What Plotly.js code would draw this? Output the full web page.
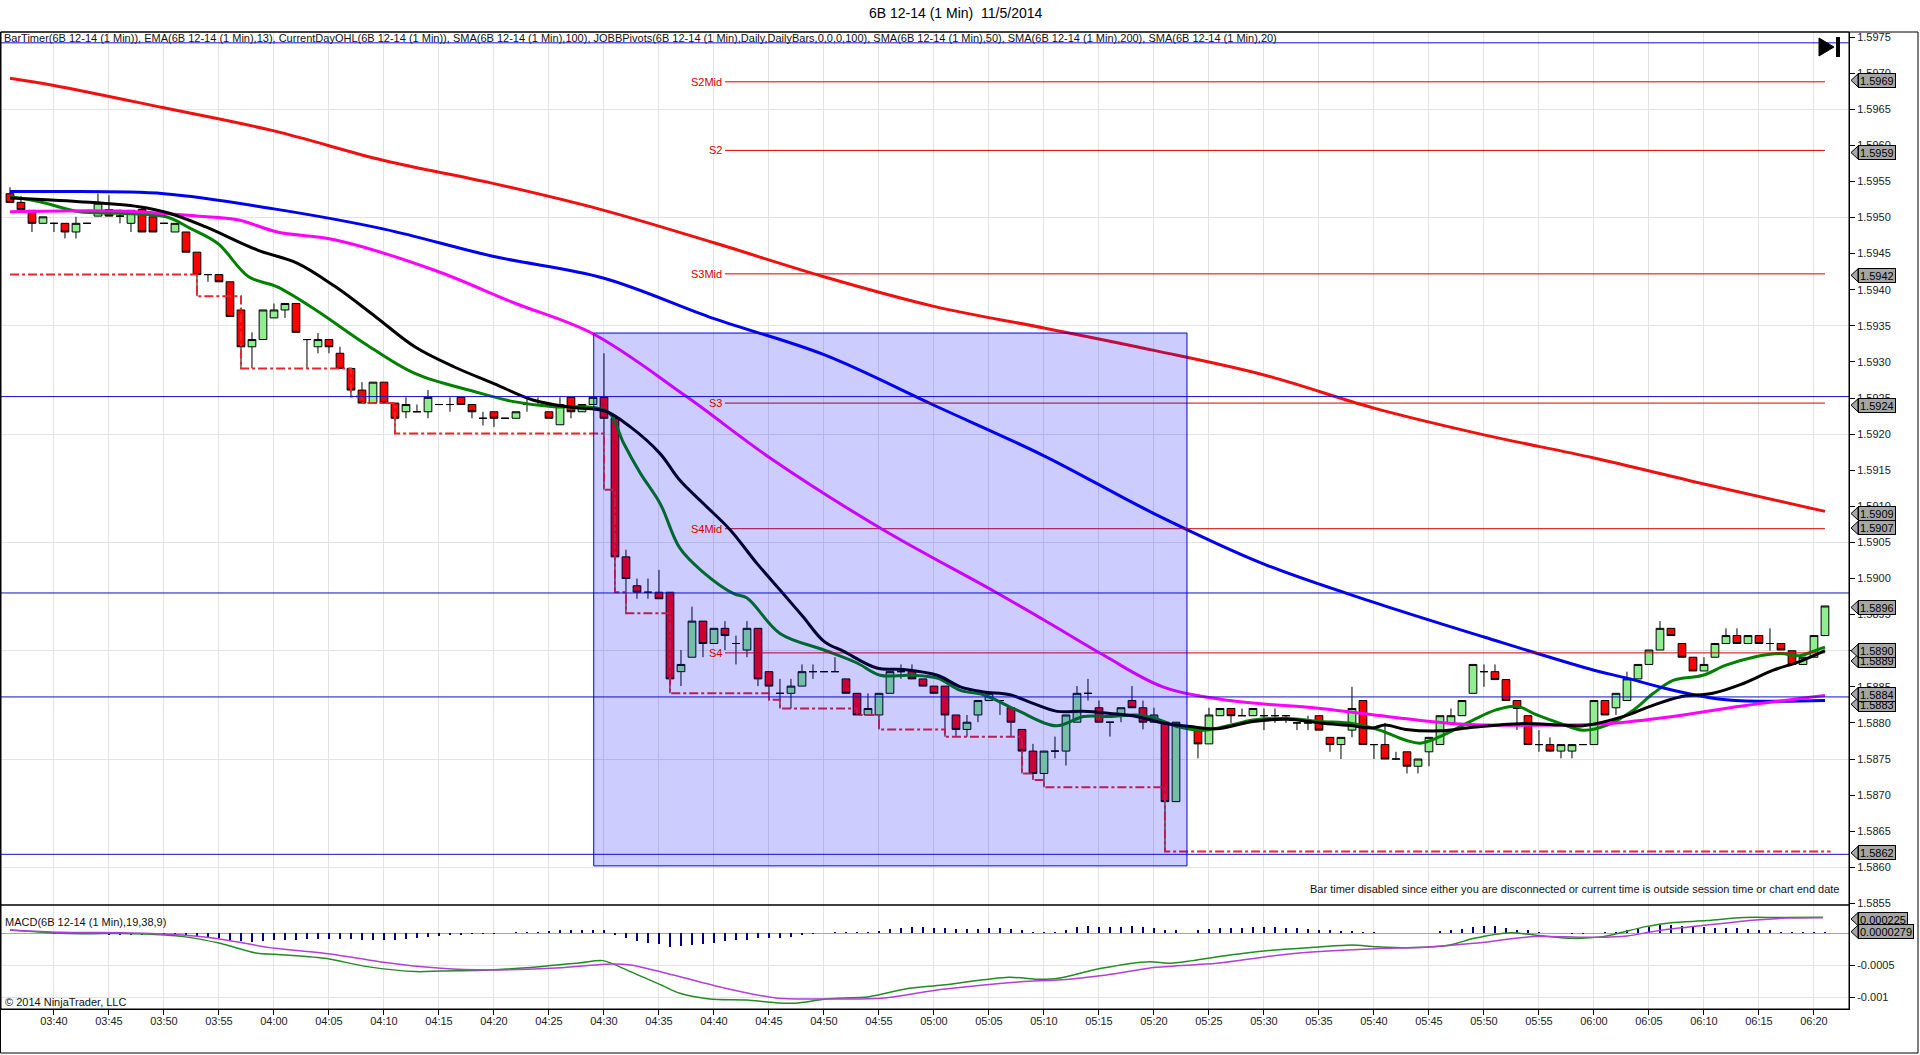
<!DOCTYPE html>
<html>
<head>
<meta charset="utf-8">
<script src="https://cdn.plot.ly/plotly-3.0.1.min.js"></script>
<style>html,body{margin:0;padding:0;background:#fff;overflow:hidden}#chart{width:1920px;height:1055px}</style>
</head>
<body>
<div id="chart"></div>
<script>
const DAY = '2014-11-05 ';
const D = t => (t === null ? null : DAY + t);

// ---------- 1-minute bars (6B 12-14) ----------
const barTime = [
"03:36","03:37","03:38","03:39","03:40","03:41","03:42","03:43","03:44","03:45",
"03:46","03:47","03:48","03:49","03:50","03:51","03:52","03:53","03:54","03:55",
"03:56","03:57","03:58","03:59","04:00","04:01","04:02","04:03","04:04","04:05",
"04:06","04:07","04:08","04:09","04:10","04:11","04:12","04:13","04:14","04:15",
"04:16","04:17","04:18","04:19","04:20","04:21","04:22","04:23","04:24","04:25",
"04:26","04:27","04:28","04:29","04:30","04:31","04:32","04:33","04:34","04:35",
"04:36","04:37","04:38","04:39","04:40","04:41","04:42","04:43","04:44","04:45",
"04:46","04:47","04:48","04:49","04:50","04:51","04:52","04:53","04:54","04:55",
"04:56","04:57","04:58","04:59","05:00","05:01","05:02","05:03","05:04","05:05",
"05:06","05:07","05:08","05:09","05:10","05:11","05:12","05:13","05:14","05:15",
"05:16","05:17","05:18","05:19","05:20","05:21","05:22","05:24","05:25","05:26",
"05:27","05:28","05:29","05:30","05:31","05:32","05:33","05:34","05:35","05:36",
"05:37","05:38","05:39","05:40","05:41","05:42","05:43","05:44","05:45","05:46",
"05:47","05:48","05:49","05:50","05:51","05:52","05:53","05:54","05:55","05:56",
"05:57","05:58","05:59","06:00","06:01","06:02","06:03","06:04","06:05","06:06",
"06:07","06:08","06:09","06:10","06:11","06:12","06:13","06:14","06:15","06:16",
"06:17","06:18","06:19","06:20","06:21"];
const barOpen = [
1.59533,1.59521,1.59510,1.59492,1.59492,1.59492,1.59480,1.59492,1.59502,1.59511,
1.59502,1.59492,1.59511,1.59501,1.59492,1.59480,1.59480,1.59452,1.59421,1.59421,
1.59411,1.59372,1.59321,1.59331,1.59361,1.59372,1.59381,1.59331,1.59321,1.59331,
1.59312,1.59291,1.59261,1.59243,1.59272,1.59243,1.59231,1.59231,1.59231,1.59241,
1.59241,1.59251,1.59241,1.59222,1.59231,1.59222,1.59222,1.59241,1.59241,1.59231,
1.59213,1.59251,1.59231,1.59241,1.59251,1.59222,1.59030,1.58990,1.58981,1.58981,
1.58981,1.58871,1.58891,1.58941,1.58910,1.58931,1.58910,1.58901,1.58931,1.58871,
1.58841,1.58841,1.58851,1.58871,1.58871,1.58871,1.58861,1.58841,1.58811,1.58811,
1.58841,1.58871,1.58871,1.58861,1.58851,1.58851,1.58811,1.58791,1.58811,1.58831,
1.58831,1.58821,1.58791,1.58761,1.58730,1.58761,1.58761,1.58801,1.58841,1.58821,
1.58801,1.58811,1.58831,1.58821,1.58801,1.58801,1.58691,1.58791,1.58771,1.58810,
1.58820,1.58810,1.58810,1.58810,1.58810,1.58810,1.58800,1.58800,1.58810,1.58780,
1.58770,1.58790,1.58831,1.58770,1.58770,1.58750,1.58760,1.58740,1.58760,1.58770,
1.58800,1.58810,1.58841,1.58871,1.58871,1.58860,1.58831,1.58810,1.58770,1.58770,
1.58761,1.58761,1.58770,1.58770,1.58831,1.58821,1.58831,1.58861,1.58881,1.58901,
1.58931,1.58910,1.58891,1.58872,1.58891,1.58910,1.58921,1.58910,1.58921,1.58910,
1.58910,1.58900,1.58881,1.58891,1.58921];
const barHigh = [
1.59542,1.59530,1.59510,1.59501,1.59492,1.59492,1.59501,1.59492,1.59533,1.59531,
1.59511,1.59510,1.59516,1.59501,1.59492,1.59492,1.59480,1.59452,1.59421,1.59421,
1.59411,1.59372,1.59341,1.59372,1.59381,1.59381,1.59381,1.59331,1.59340,1.59331,
1.59321,1.59291,1.59272,1.59272,1.59272,1.59243,1.59251,1.59241,1.59261,1.59241,
1.59251,1.59251,1.59241,1.59231,1.59231,1.59222,1.59231,1.59251,1.59251,1.59231,
1.59251,1.59251,1.59241,1.59251,1.59312,1.59222,1.59040,1.59000,1.59000,1.59012,
1.58981,1.58901,1.58961,1.58941,1.58931,1.58941,1.58921,1.58941,1.58931,1.58871,
1.58861,1.58861,1.58881,1.58881,1.58871,1.58891,1.58861,1.58841,1.58841,1.58841,
1.58871,1.58881,1.58881,1.58861,1.58851,1.58851,1.58811,1.58811,1.58831,1.58841,
1.58831,1.58821,1.58791,1.58771,1.58761,1.58781,1.58811,1.58851,1.58861,1.58831,
1.58801,1.58821,1.58851,1.58831,1.58821,1.58801,1.58801,1.58791,1.58821,1.58820,
1.58820,1.58820,1.58820,1.58820,1.58820,1.58810,1.58800,1.58810,1.58810,1.58780,
1.58780,1.58850,1.58831,1.58770,1.58800,1.58760,1.58760,1.58750,1.58780,1.58810,
1.58820,1.58831,1.58881,1.58881,1.58881,1.58860,1.58831,1.58810,1.58790,1.58780,
1.58770,1.58770,1.58770,1.58831,1.58831,1.58841,1.58871,1.58881,1.58901,1.58941,
1.58931,1.58910,1.58891,1.58891,1.58910,1.58931,1.58931,1.58921,1.58921,1.58931,
1.58910,1.58900,1.58891,1.58921,1.58962];
const barLow = [
1.59521,1.59511,1.59480,1.59492,1.59480,1.59471,1.59471,1.59492,1.59502,1.59502,
1.59492,1.59480,1.59480,1.59480,1.59492,1.59480,1.59452,1.59391,1.59411,1.59411,
1.59363,1.59291,1.59291,1.59331,1.59361,1.59361,1.59341,1.59291,1.59312,1.59312,
1.59291,1.59252,1.59243,1.59243,1.59243,1.59201,1.59222,1.59231,1.59222,1.59241,
1.59231,1.59241,1.59222,1.59212,1.59210,1.59222,1.59222,1.59231,1.59241,1.59222,
1.59213,1.59222,1.59231,1.59241,1.59123,1.58981,1.58952,1.58972,1.58972,1.58972,
1.58841,1.58851,1.58891,1.58891,1.58910,1.58901,1.58881,1.58891,1.58851,1.58832,
1.58820,1.58820,1.58851,1.58861,1.58871,1.58871,1.58841,1.58811,1.58811,1.58791,
1.58841,1.58861,1.58861,1.58851,1.58841,1.58781,1.58781,1.58781,1.58801,1.58831,
1.58811,1.58781,1.58730,1.58721,1.58711,1.58751,1.58741,1.58801,1.58831,1.58801,
1.58781,1.58801,1.58821,1.58791,1.58801,1.58622,1.58691,1.58751,1.58771,1.58810,
1.58800,1.58810,1.58810,1.58790,1.58800,1.58800,1.58790,1.58790,1.58790,1.58760,
1.58750,1.58780,1.58770,1.58750,1.58750,1.58750,1.58730,1.58730,1.58740,1.58770,
1.58800,1.58810,1.58841,1.58850,1.58860,1.58831,1.58790,1.58770,1.58760,1.58760,
1.58751,1.58751,1.58770,1.58770,1.58811,1.58811,1.58831,1.58861,1.58881,1.58901,
1.58921,1.58891,1.58872,1.58872,1.58891,1.58910,1.58910,1.58910,1.58910,1.58900,
1.58901,1.58881,1.58881,1.58891,1.58921];
const barClose = [
1.59521,1.59511,1.59492,1.59501,1.59492,1.59480,1.59492,1.59492,1.59520,1.59502,
1.59502,1.59510,1.59480,1.59480,1.59492,1.59492,1.59452,1.59421,1.59421,1.59411,
1.59363,1.59321,1.59331,1.59372,1.59372,1.59381,1.59341,1.59331,1.59331,1.59321,
1.59291,1.59261,1.59243,1.59272,1.59243,1.59222,1.59241,1.59231,1.59251,1.59241,
1.59241,1.59241,1.59231,1.59222,1.59222,1.59222,1.59231,1.59241,1.59241,1.59222,
1.59241,1.59231,1.59241,1.59251,1.59222,1.59030,1.59000,1.58981,1.58981,1.58972,
1.58861,1.58881,1.58941,1.58910,1.58931,1.58921,1.58910,1.58931,1.58861,1.58851,
1.58841,1.58851,1.58871,1.58871,1.58871,1.58871,1.58841,1.58811,1.58820,1.58841,
1.58871,1.58871,1.58861,1.58851,1.58841,1.58811,1.58791,1.58801,1.58831,1.58841,
1.58831,1.58801,1.58761,1.58730,1.58761,1.58761,1.58811,1.58841,1.58841,1.58801,
1.58801,1.58821,1.58821,1.58801,1.58811,1.58691,1.58801,1.58771,1.58811,1.58820,
1.58810,1.58810,1.58820,1.58810,1.58810,1.58810,1.58800,1.58800,1.58790,1.58770,
1.58780,1.58820,1.58770,1.58770,1.58750,1.58750,1.58740,1.58750,1.58780,1.58810,
1.58810,1.58831,1.58881,1.58871,1.58860,1.58831,1.58820,1.58770,1.58770,1.58761,
1.58770,1.58770,1.58770,1.58831,1.58811,1.58841,1.58861,1.58881,1.58901,1.58931,
1.58921,1.58891,1.58872,1.58881,1.58910,1.58921,1.58910,1.58921,1.58910,1.58910,
1.58901,1.58881,1.58891,1.58921,1.58962];

// ---------- indicator lines ----------
const ema13Time = ["03:36:00","03:38:42","03:42:18","03:45:54","03:50:12","03:52:24","03:54:54","03:57:42","04:00:18","04:03:48","04:08:12","04:12:48","04:18:12","04:21:48","04:25:24","04:29:00","04:30:30","04:31:48","04:33:18","04:35:06","04:36:54","04:39:00","04:41:48","04:43:00","04:46:00","04:50:00","04:53:00","04:55:06","04:57:48","05:00:18","05:02:24","05:04:30","05:07:30","05:11:06","05:13:36","05:16:00","05:18:24","05:20:12","05:22:06","05:24:30","05:27:00","05:29:00","05:32:06","05:35:06","05:38:06","05:40:30","05:42:54","05:44:12","05:46:00","05:49:00","05:51:06","05:53:00","05:54:48","05:57:00","05:59:00","06:01:12","06:03:36","06:05:24","06:07:12","06:09:54","06:12:00","06:14:30","06:16:54","06:18:42","06:19:54","06:21:00"];
const ema13Val = [1.59529,1.59522,1.59508,1.59506,1.59501,1.59485,1.59464,1.59418,1.59404,1.59372,1.59326,1.59284,1.59259,1.59245,1.59238,1.59237,1.59229,1.59187,1.59146,1.59104,1.59042,1.59009,1.58979,1.58973,1.58924,1.58901,1.58883,1.58866,1.58866,1.58862,1.58845,1.58839,1.58818,1.58796,1.58809,1.58809,1.58811,1.58806,1.58795,1.58790,1.58797,1.58804,1.58806,1.58802,1.58799,1.58790,1.58776,1.58772,1.58781,1.58804,1.58818,1.58823,1.58811,1.58799,1.58790,1.58797,1.58818,1.58841,1.58859,1.58866,1.58880,1.58891,1.58896,1.58893,1.58899,1.58905];

const sma20Time = ["03:36:00","03:42:18","03:47:42","03:50:30","03:53:48","03:58:30","04:02:06","04:05:36","04:09:12","04:12:48","04:16:24","04:20:00","04:23:36","04:27:12","04:30:06","04:32:24","04:35:06","04:36:54","04:39:18","04:41:30","04:43:54","04:46:18","04:48:06","04:50:00","04:51:48","04:54:48","04:57:12","05:00:18","05:02:24","05:04:30","05:06:54","05:09:00","05:11:12","05:13:36","05:16:00","05:18:24","05:20:48","05:23:18","05:25:42","05:29:00","05:32:06","05:35:06","05:38:06","05:39:54","05:41:00","05:42:54","05:46:00","05:49:00","05:53:18","05:57:00","05:59:00","06:02:42","06:05:06","06:07:48","06:10:48","06:13:18","06:16:18","06:18:42","06:21:00"];
const sma20Val = [1.59527,1.59522,1.59515,1.59506,1.59487,1.59455,1.59437,1.59404,1.59363,1.59321,1.59293,1.59270,1.59247,1.59237,1.59232,1.59210,1.59173,1.59136,1.59100,1.59067,1.59021,1.58979,1.58947,1.58913,1.58899,1.58876,1.58874,1.58866,1.58850,1.58843,1.58839,1.58827,1.58816,1.58816,1.58813,1.58809,1.58800,1.58795,1.58792,1.58802,1.58805,1.58800,1.58796,1.58793,1.58797,1.58791,1.58789,1.58794,1.58799,1.58797,1.58796,1.58809,1.58823,1.58836,1.58841,1.58853,1.58873,1.58885,1.58900];

const sma50Time = ["03:36:00","03:46:00","03:53:00","03:56:42","04:00:18","04:05:36","04:14:36","04:21:48","04:29:00","04:37:30","04:45:06","04:55:06","05:05:30","05:10:30","05:15:24","05:20:48","05:26:54","05:35:06","05:41:12","05:47:12","05:57:00","06:01:12","06:07:12","06:13:18","06:21:00"];
const sma50Val = [1.59508,1.59509,1.59502,1.59497,1.59480,1.59469,1.59427,1.59382,1.59339,1.59252,1.59167,1.59070,1.58982,1.58938,1.58894,1.58850,1.58831,1.58820,1.58809,1.58799,1.58797,1.58799,1.58809,1.58823,1.58838];

const sma100Time = ["03:36","03:40","03:50","04:00","04:10","04:20","04:30","04:40","04:50","05:00","05:10","05:20","05:30","05:40","05:50","06:00","06:03","06:07","06:12","06:21"];
const sma100Val = [1.59536,1.59536,1.59533,1.59512,1.59484,1.59446,1.59416,1.59360,1.59310,1.59240,1.59170,1.59090,1.59020,1.58967,1.58919,1.58873,1.58862,1.58846,1.58832,1.58831];

const sma200Time = ["03:36","03:40","03:50","04:00","04:10","04:20","04:30","04:40","04:50","05:00","05:10","05:20","05:30","05:40","05:50","06:00","06:10","06:21"];
const sma200Val = [1.59693,1.59683,1.59652,1.59620,1.59579,1.59547,1.59510,1.59465,1.59418,1.59377,1.59347,1.59316,1.59282,1.59236,1.59199,1.59167,1.59131,1.59093];

// CurrentDayOHL – current day low (step line)
const dayLowTime = ["03:36","03:53","03:57","04:07","04:08","04:11","04:30","04:31","04:32","04:36","04:45","04:46","04:53","04:55","05:01","05:08","05:09","05:10","05:21","06:21:30"];
const dayLowVal = [1.59421,1.59391,1.59291,1.59252,1.59243,1.59201,1.59123,1.58981,1.58952,1.58841,1.58832,1.58820,1.58811,1.58791,1.58781,1.58730,1.58721,1.58711,1.58622,1.58622];

// JOBBPivots
const pivotName = ["S2Mid","S2","S3Mid","S3","S4Mid","S4"];
const pivotLevel = [1.59688,1.59593,1.59422,1.59243,1.59069,1.58897];
const pivotSpan = ["04:41","06:21"];

// drawing objects
const hLineLevel = [1.59742,1.59252,1.58980,1.58836,1.58618];
const rectTime = ["04:29:04","05:23:00"];
const rectPrice = [1.58602,1.59340];

// price-axis marker tags (drawn in this order, later on top)
const priceTagVal = [1.5969,1.5959,1.5942,1.5924,1.5909,1.5907,1.5896,1.5889,1.5890,1.5883,1.5884,1.5862];
const priceTagOffset = [0,0,0,0,0,0,0,-3,0,-3,0,0];

// ---------- MACD(19,38,9) ----------
const macdTime = ["03:36:00","03:40:39","03:43:24","03:46:12","03:50:06","03:51:48","03:55:06","03:58:30","04:00:06","04:04:36","04:08:30","04:12:54","04:15:12","04:19:36","04:24:06","04:27:54","04:29:54","04:32:24","04:35:12","04:36:54","04:39:36","04:43:00","04:45:12","04:47:24","04:50:12","04:54:06","04:57:24","05:00:48","05:06:48","05:09:36","05:11:18","05:15:12","05:19:36","05:21:18","05:23:30","05:26:54","05:30:12","05:34:36","05:38:00","05:40:12","05:43:30","05:46:54","05:49:06","05:52:24","05:54:36","05:58:00","06:00:48","06:04:42","06:07:00","06:10:18","06:13:36","06:17:00","06:20:48"];
const macdVal = [0.000055,0.000003,-0.000004,0.000000,-0.000023,-0.000049,-0.000154,-0.000310,-0.000326,-0.000388,-0.000518,-0.000596,-0.000586,-0.000570,-0.000518,-0.000456,-0.000424,-0.000596,-0.000805,-0.000935,-0.001023,-0.001039,-0.001076,-0.001091,-0.001023,-0.000987,-0.000867,-0.000805,-0.000685,-0.000716,-0.000701,-0.000544,-0.000440,-0.000466,-0.000424,-0.000336,-0.000268,-0.000216,-0.000180,-0.000206,-0.000221,-0.000180,-0.000076,0.000013,-0.000023,-0.000076,-0.000049,0.000107,0.000169,0.000201,0.000250,0.000250,0.000255];
const signalTime = ["03:36:00","03:40:39","03:46:12","03:50:36","03:54:36","04:00:06","04:05:06","04:09:36","04:15:12","04:19:36","04:25:12","04:30:42","04:32:24","04:36:18","04:40:48","04:45:48","04:50:12","04:55:12","05:00:48","05:07:54","05:11:18","05:15:42","05:20:12","05:25:42","05:30:12","05:33:30","05:40:12","05:44:36","05:49:06","05:54:36","06:00:12","06:03:00","06:05:48","06:10:18","06:14:42","06:17:30","06:20:48"];
const signalVal = [0.000055,0.000018,0.000013,-0.000013,-0.000076,-0.000232,-0.000320,-0.000440,-0.000544,-0.000570,-0.000544,-0.000477,-0.000492,-0.000648,-0.000846,-0.001013,-0.001023,-0.001013,-0.000872,-0.000753,-0.000727,-0.000648,-0.000529,-0.000466,-0.000362,-0.000300,-0.000237,-0.000216,-0.000154,-0.000049,-0.000060,-0.000039,0.000044,0.000133,0.000211,0.000240,0.000245];
// histogram per bar (aligned with barTime), in units of 1e-6
const macdDiffMicro = [
10,5,5,0,-5,-5,-10,-10,-10,-16,
-16,-16,-21,-21,-26,-31,-42,-52,-68,-78,
-94,-120,-130,-120,-109,-99,-94,-88,-83,-83,
-88,-88,-94,-99,-99,-94,-83,-73,-52,-42,
-26,-16,-10,-10,-5,0,16,26,26,36,
47,52,62,62,62,-16,-68,-120,-146,-161,
-213,-198,-182,-161,-146,-120,-104,-94,-78,-68,
-68,-52,-26,-10,0,21,26,21,16,36,
68,88,99,99,88,78,68,68,73,78,
88,73,52,26,26,26,62,99,114,99,
99,99,114,99,88,62,52,62,73,83,
88,88,99,99,99,88,88,73,62,47,
36,36,26,21,10,0,0,0,0,36,
47,73,104,120,120,88,62,47,21,0,
0,-5,-5,0,21,31,47,78,109,125,
130,120,109,99,88,88,78,73,57,47,
31,16,16,16,28];
const macdTagVal = [0.000225,0.0000279];
const macdTagText = ["0.000225","0.0000279"];

// ---------- geometry helpers (page pixels -> paper) ----------
const PL = 1, PR = 1849, PT = 32, PB = 1009;
const px = x => (x - PL) / (PR - PL);
const py = y => (PB - y) / (PB - PT);
const priceDomain = [py(905), 1];
const macdDomain = [0, py(905)];
const FONT = 'Arial, "Liberation Sans", sans-serif';

const traces = [];
traces.push({type:'scatter', x:[], y:[], xaxis:'x', yaxis:'y3', showlegend:false, hoverinfo:'skip'});
traces.push({
  type:'candlestick', x:barTime.map(D), open:barOpen, high:barHigh, low:barLow, close:barClose,
  xaxis:'x', yaxis:'y', showlegend:false, hoverinfo:'skip', whiskerwidth:0,
  increasing:{fillcolor:'#90EE90', line:{color:'#000000', width:1}},
  decreasing:{fillcolor:'#FF0000', line:{color:'#000000', width:1}}
});
const line = (t, v, color, width, extra) => Object.assign({
  type:'scatter', mode:'lines', x:t.map(D), y:v, xaxis:'x', yaxis:'y',
  line:{color:color, width:width, shape:'spline', smoothing:1.0}, showlegend:false, hoverinfo:'skip'
}, extra || {});
traces.push(line(ema13Time, ema13Val, '#008000', 3));
traces.push({type:'scatter', mode:'lines', x:dayLowTime.map(D), y:dayLowVal, xaxis:'x', yaxis:'y',
  line:{color:'#E8262C', width:2, shape:'hv', dash:'dashdot'}, showlegend:false, hoverinfo:'skip'});
traces.push(line(sma100Time, sma100Val, '#0000F0', 3));
// pivots
const pvX = [], pvY = [];
pivotLevel.forEach(l => { pvX.push(D(pivotSpan[0]), D(pivotSpan[1]), null); pvY.push(l, l, null); });
traces.push({type:'scatter', mode:'lines', x:pvX, y:pvY, xaxis:'x', yaxis:'y', connectgaps:false,
  line:{color:'#D40000', width:1}, showlegend:false, hoverinfo:'skip'});
traces.push(line(sma50Time, sma50Val, '#FF00FF', 3));
traces.push(line(sma200Time, sma200Val, '#F01010', 3));
traces.push(line(sma20Time, sma20Val, '#000000', 3));
// MACD
traces.push({type:'bar', x:barTime.map(D), y:macdDiffMicro.map(v => v * 1e-6), xaxis:'x', yaxis:'y2',
  marker:{color:'#000080', line:{width:0}}, width:13000, showlegend:false, hoverinfo:'skip'});
traces.push({type:'scatter', mode:'lines', x:macdTime.map(D), y:macdVal, xaxis:'x', yaxis:'y2',
  line:{color:'#228B22', width:1.5, shape:'spline', smoothing:0.8}, showlegend:false, hoverinfo:'skip'});
traces.push({type:'scatter', mode:'lines', x:signalTime.map(D), y:signalVal, xaxis:'x', yaxis:'y2',
  line:{color:'#B040D8', width:1.5, shape:'spline', smoothing:0.8}, showlegend:false, hoverinfo:'skip'});

const shapes = [];
const annotations = [];

// horizontal drawn lines
hLineLevel.forEach(l => shapes.push({type:'line', xref:'paper', x0:0, x1:1, yref:'y', y0:l, y1:l,
  line:{color:'#1010C8', width:1}, layer:'above'}));
// rectangle
shapes.push({type:'rect', xref:'x', yref:'y', x0:D(rectTime[0]), x1:D(rectTime[1]), y0:rectPrice[0], y1:rectPrice[1],
  fillcolor:'rgba(0,0,255,0.2)', line:{color:'#0000E0', width:1}, layer:'above'});
// panel frames
shapes.push({type:'rect', xref:'paper', yref:'paper', x0:0, x1:1, y0:priceDomain[0], y1:1, line:{color:'#000', width:1}, fillcolor:'rgba(0,0,0,0)', layer:'above'});
shapes.push({type:'rect', xref:'paper', yref:'paper', x0:0, x1:1, y0:0, y1:macdDomain[1], line:{color:'#000', width:1}, fillcolor:'rgba(0,0,0,0)', layer:'above'});
shapes.push({type:'rect', xref:'paper', yref:'paper', x0:px(0.5), x1:px(1918), y0:py(1053), y1:1, line:{color:'#000', width:1}, fillcolor:'rgba(0,0,0,0)', layer:'above'});
// scroll-to-end icon
shapes.push({type:'path', xref:'paper', xsizemode:'pixel', xanchor:1, yref:'paper', ysizemode:'pixel', yanchor:py(47),
  path:'M -30 9 L -15 0 L -30 -9 Z', fillcolor:'#000', line:{color:'#000', width:1}, layer:'above'});
shapes.push({type:'path', xref:'paper', xsizemode:'pixel', xanchor:1, yref:'paper', ysizemode:'pixel', yanchor:py(47),
  path:'M -13 10 L -9 10 L -9 -10 L -13 -10 Z', fillcolor:'#000', line:{color:'#000', width:0}, layer:'above'});

// pivot labels
pivotLevel.forEach((l, i) => annotations.push({xref:'x', yref:'y', x:D(pivotSpan[0]), y:l, xanchor:'right', yanchor:'middle',
  xshift:-1, showarrow:false, text:pivotName[i], font:{family:FONT, size:11, color:'#D40000'}}));

// axis tags
function tag(val, text, yref, yshift) {
  shapes.push({type:'path', xref:'paper', xsizemode:'pixel', xanchor:1, yref:yref, ysizemode:'pixel', yanchor:val,
    path:`M 2 ${yshift} L 9 ${yshift + 6.5} L 9 ${yshift - 6.5} Z`, fillcolor:'#A6A6A6', line:{color:'#000', width:1}, layer:'above'});
  annotations.push({xref:'paper', x:1, xanchor:'left', xshift:9, yref:yref, y:val, yanchor:'middle', yshift:yshift,
    text:text, showarrow:false, bgcolor:'#A6A6A6', bordercolor:'#000', borderwidth:1, borderpad:1, height:11,
    font:{family:FONT, size:11, color:'#000'}});
}
priceTagVal.forEach((v, i) => tag(v, v.toFixed(4), 'y', priceTagOffset[i]));
macdTagVal.forEach((v, i) => tag(v, macdTagText[i], 'y2', 0));

// texts
const txt = (x, y, text, xa, size, extra) => Object.assign({xref:'paper', yref:'paper', x:px(x), y:py(y), xanchor:xa, yanchor:'middle',
  showarrow:false, text:text, font:{family:FONT, size:size, color:'#111'}}, extra || {});
annotations.push(txt(956, 13, '6B 12-14 (1 Min)\u00a0 11/5/2014', 'center', 14, {font:{family:FONT, size:14, color:'#000'}}));
annotations.push(txt(2, 38, 'BarTimer(6B 12-14 (1 Min)), EMA(6B 12-14 (1 Min),13), CurrentDayOHL(6B 12-14 (1 Min)), SMA(6B 12-14 (1 Min),100), JOBBPivots(6B 12-14 (1 Min),Daily,DailyBars,0,0,0,100), SMA(6B 12-14 (1 Min),50), SMA(6B 12-14 (1 Min),200), SMA(6B 12-14 (1 Min),20)', 'left', 11));
annotations.push(txt(1842, 889, 'Bar timer disabled since either you are disconnected or current time is outside session time or chart end date', 'right', 11));
annotations.push(txt(3, 922, 'MACD(6B 12-14 (1 Min),19,38,9)', 'left', 11));
annotations.push(txt(3, 1002, '\u00a9 2014 NinjaTrader, LLC', 'left', 11));

const layout = {
  width:1920, height:1055, autosize:false,
  margin:{l:PL, r:1920 - PR, t:PT, b:1055 - PB, pad:0},
  paper_bgcolor:'#FFFFFF', plot_bgcolor:'#FFFFFF',
  font:{family:FONT, size:11, color:'#111'},
  showlegend:false, hovermode:false, dragmode:false,
  boxgap:0, boxgroupgap:0.3, bargap:0,
  xaxis:{type:'date', anchor:'y2', range:[D('03:35:11'), D('06:23:11')],
    tick0:D('03:40'), dtick:300000, tickformat:'%H:%M', ticks:'outside', ticklen:5, tickcolor:'#000',
    ticklabelstandoff:-3,
    showgrid:true, gridcolor:'#E3E3E3', gridwidth:1, showline:true, linecolor:'#000', zeroline:false,
    rangeslider:{visible:false}, tickfont:{family:FONT, size:11, color:'#222'}},
  yaxis:{domain:priceDomain, anchor:'x', side:'right', range:[1.585478, 1.59757],
    tick0:1.586, dtick:0.0005, tickformat:'.4f', ticks:'outside', ticklen:5, tickcolor:'#000',
    showgrid:false, zeroline:false, showline:true, linecolor:'#000', tickfont:{family:FONT, size:11, color:'#222'}},
  yaxis3:{overlaying:'y', side:'right', range:[1.585478, 1.59757], tick0:1.586, dtick:0.0015,
    showgrid:true, gridcolor:'#E3E3E3', showticklabels:false, ticks:'', showline:false, zeroline:false},
  yaxis2:{domain:macdDomain, anchor:'x', side:'right', range:[-0.00118, 0.000445],
    tickvals:[-0.001, -0.0005], ticktext:['-0.001', '-0.0005'], ticks:'outside', ticklen:5, tickcolor:'#000',
    showgrid:true, gridcolor:'#E3E3E3', zeroline:true, zerolinecolor:'#A8A8A8', zerolinewidth:1,
    showline:true, linecolor:'#000', tickfont:{family:FONT, size:11, color:'#222'}},
  shapes:shapes, annotations:annotations
};

Plotly.newPlot('chart', traces, layout, {staticPlot:true, displayModeBar:false});
</script>
</body>
</html>
